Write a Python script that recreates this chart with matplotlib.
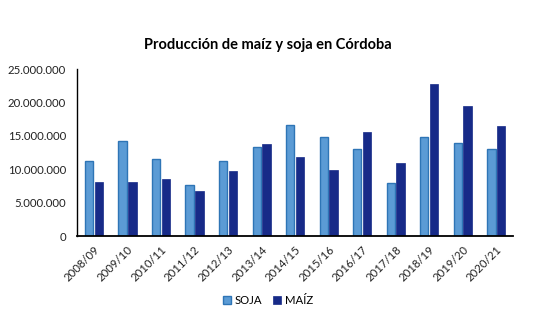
import numpy as np
import matplotlib
matplotlib.use("Agg")
import matplotlib.pyplot as plt
from matplotlib.ticker import FuncFormatter

plt.rcParams['font.family'] = ['Lato', 'DejaVu Sans']

campanias = ["2008/09", "2009/10", "2010/11", "2011/12", "2012/13", "2013/14", "2014/15",
             "2015/16", "2016/17", "2017/18", "2018/19", "2019/20", "2020/21"]
soja = [11.2, 14.2, 11.6, 7.7, 11.3, 13.3, 16.7, 14.8, 13.1, 7.9, 14.8, 13.9, 13.1]
maiz = [8.1, 8.1, 8.5, 6.7, 9.7, 13.8, 11.8, 9.9, 15.6, 10.9, 22.8, 19.5, 16.5]
soja = np.array(soja) * 1e6
maiz = np.array(maiz) * 1e6

fig = plt.figure(figsize=(5.36, 3.22), dpi=100)
ax = fig.add_axes([0.1437, 0.267, 0.813, 0.518])

x = np.arange(len(campanias))
w = 0.25
ax.bar(x - 0.14, soja, w, color='#5B9BD5', edgecolor='#2E75B6', linewidth=1.0, label='SOJA')
ax.bar(x + 0.15, maiz, w, color='#172A88', edgecolor='#172A88', linewidth=0.5, label='MAÍZ')

ax.set_xlim(-0.5, len(campanias) - 0.5)
ax.set_ylim(0, 25e6)
ax.set_yticks(np.arange(0, 25e6 + 1, 5e6))
ax.yaxis.set_major_formatter(FuncFormatter(lambda v, p: f"{int(v):,}".replace(",", ".")))
ax.set_xticks(x)
ax.set_xticklabels(campanias, rotation=45, ha='right', rotation_mode='anchor')
ax.tick_params(axis='both', length=0, labelsize=8.2, colors='#222222')
ax.tick_params(axis='x', pad=6)
ax.tick_params(axis='y', pad=8)
for s in ['top', 'right']:
    ax.spines[s].set_visible(False)
ax.spines['left'].set_color('black')
ax.spines['bottom'].set_color('black')
ax.spines['left'].set_linewidth(1.0)
ax.spines['bottom'].set_linewidth(1.3)

fig.text(0.5, 0.86, "Producción de maíz y soja en Córdoba", ha='center', va='center',
         fontsize=10.5, fontweight='bold')
fig.legend(loc='center', bbox_to_anchor=(0.5, 0.068), ncol=2, frameon=False, fontsize=8.2,
           handlelength=0.7, handleheight=0.7, columnspacing=1.0, handletextpad=0.3)

fig.savefig("out.png", dpi=100)
